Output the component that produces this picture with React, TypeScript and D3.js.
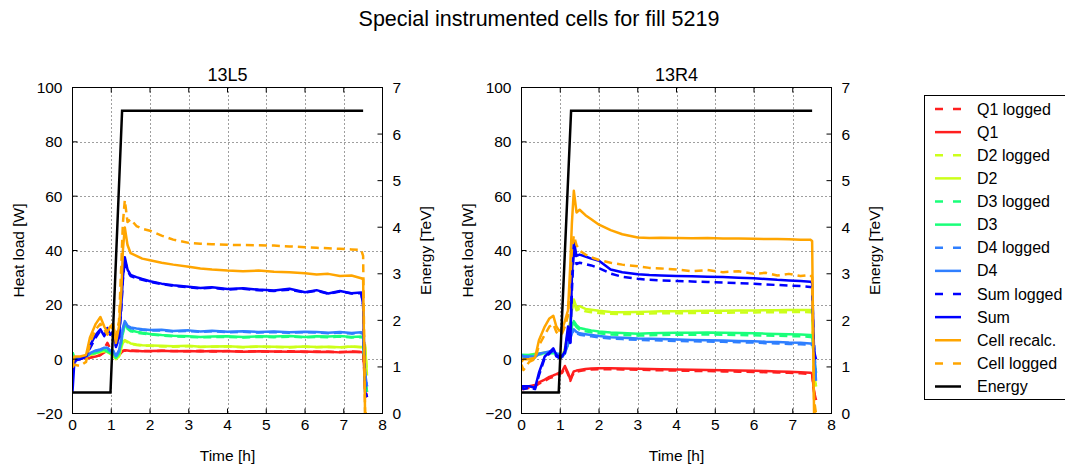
import React from 'react';
import * as d3 from 'd3';

// ---------- data ----------
const TIME = [0, 0.05, 0.2, 0.35, 0.45, 0.6, 0.72, 0.82, 0.9, 0.97, 1.05, 1.12, 1.2, 1.26, 1.3, 1.35, 1.42, 1.5, 1.65, 1.8, 2.0, 2.3, 2.6, 3.0, 3.3, 3.6, 4.0, 4.4, 4.8, 5.2, 5.6, 6.0, 6.3, 6.6, 6.9, 7.2, 7.45, 7.5, 7.55, 7.6];

// 13L5
const L5_Q1_LOG = [0, 0, 0, 0.3, 0.5, 1, 1.5, 4, 6, 4, 1.5, 0.5, 1.5, 2.5, 3, 3.2, 3.1, 3.2, 3, 3.1, 2.9, 3.1, 3, 2.9, 3.1, 2.8, 3, 2.8, 2.9, 2.7, 2.9, 2.6, 2.8, 2.7, 2.6, 2.8, 2.6, 2.5, -10, -14];
const L5_Q1 = [0, 0, 0.2, 0.5, 0.6, 1, 1.5, 2.5, 3, 3, 1.5, 0.5, 1.5, 2.5, 3, 3.3, 3.2, 3, 3.1, 2.9, 3, 3.1, 2.9, 3, 2.8, 3, 2.9, 2.7, 2.9, 2.8, 2.7, 2.8, 2.6, 2.7, 2.5, 2.7, 2.6, 2.4, -8, -12];
const L5_D2_LOG = [1, 0.5, 0.5, 1, 1.5, 2, 2.5, 3, 2.5, 2, 1.5, 0, 1, 4, 6, 6.8, 6.2, 5.6, 5.2, 5, 4.9, 4.7, 4.6, 4.8, 4.5, 4.6, 4.7, 4.4, 4.6, 4.5, 4.3, 4.6, 4.4, 4.5, 4.3, 4.6, 4.4, 4.5, 5, -5];
const L5_D2 = [1, 0.5, 0.8, 1.2, 1.5, 2.2, 2.8, 3, 2.6, 2, 1.5, 0, 1, 4, 6.2, 7, 6.5, 5.8, 5.4, 5.1, 5, 4.9, 4.8, 4.9, 4.6, 4.7, 4.8, 4.5, 4.7, 4.6, 4.5, 4.7, 4.5, 4.6, 4.4, 4.7, 4.5, 4.6, 5.2, -6];
const L5_D3_LOG = [2.5, 0, 0.5, 1, 1.8, 2.3, 2.8, 3.2, 2.8, 2.3, 2.3, 0.5, 2, 5.5, 9.5, 12.5, 11.2, 10.3, 9.8, 9.4, 9.1, 8.7, 8.4, 8.2, 8, 8.1, 8.2, 8, 8.2, 8.1, 8.3, 8, 8.2, 8.1, 8.3, 8, 8.1, 8, -8, -12];
const L5_D3 = [2.5, 0.2, 0.6, 1.2, 2, 2.5, 3, 3.5, 3, 2.5, 2.5, 0.5, 2, 6, 10, 13, 11.5, 10.6, 10.1, 9.7, 9.3, 8.9, 8.6, 8.4, 8.2, 8.3, 8.4, 8.2, 8.4, 8.3, 8.5, 8.2, 8.4, 8.3, 8.5, 8.2, 8.3, 8.2, -8, -12];
const L5_D4_LOG = [-1, 0, 0.5, 1, 2, 3, 3.5, 4, 4, 3, 3, 1, 3, 7, 11, 13.5, 12, 11.4, 11, 10.8, 10.5, 10.6, 10.2, 10.4, 10, 10.3, 9.9, 10.1, 9.8, 10, 9.7, 9.9, 9.8, 9.5, 9.8, 9.4, 9.7, 9.2, -5, -10];
const L5_D4 = [-2, 0, 0.5, 1, 2.2, 3.2, 3.6, 4.2, 4.2, 3.2, 3.2, 1.2, 3.2, 7.5, 11.5, 14, 12.3, 11.7, 11.3, 11, 10.7, 10.8, 10.4, 10.6, 10.2, 10.5, 10.1, 10.3, 10, 10.2, 9.9, 10.1, 10, 9.7, 10, 9.6, 9.9, 9.4, -5, -10];
const L5_SUM_LOG = [-3, -1, 0, 1, 4, 8, 10.5, 9, 10, 8.5, 9.5, 4.5, 7.5, 19, 29, 36.5, 32.5, 30.6, 29.8, 29.2, 28.5, 27.6, 27, 26.5, 26, 26.3, 25.6, 25.9, 25.4, 25.1, 25.6, 24.5, 25.2, 24.1, 24.9, 24.2, 24.3, 20, -12, -14];
const L5_SUM = [-12, -0.5, 0, 1, 5, 9, 11, 8.5, 11.5, 9, 10, 5, 8, 20, 30, 37.5, 33, 31, 30.2, 29.5, 28.7, 27.8, 27.2, 26.7, 26.2, 26.5, 25.8, 26.1, 25.6, 25.3, 25.9, 24.6, 25.4, 24.2, 25.1, 24.3, 24.5, 20, -12, -14];
const L5_CELL = [-2, 1, 1, 1.5, 8, 13, 15.5, 12, 10, 12, 13, 6, 12, 25, 40, 48.5, 42, 39, 38, 37, 36.4, 35.5, 34.8, 34, 33.4, 33, 32.6, 32.4, 32.6, 32.2, 32, 31.6, 31.2, 31.4, 30.6, 30.8, 29.8, 29.4, -20, -20];
const L5_CELL_LOG = [-3, -2, -2.5, -1, 6, 11, 13, 11, 9, 11, 12, 8, 14, 35, 50, 58.5, 50.5, 51.5, 49, 48, 47.3, 45.5, 44, 42.8, 42.5, 42.3, 42.1, 42, 41.9, 41.8, 41.5, 41.2, 41, 40.8, 40.6, 40.4, 40.2, 38, -20, -20];
const L5_ENERGY_TIME = [0, 0.98, 1.28, 7.5];
const L5_ENERGY = [0.45, 0.45, 6.5, 6.5];

// 13R4
const R4_Q1_LOG = [-11, -11, -10.5, -10, -9, -8, -7, -6.5, -6, -5.5, -5, -3, -5.5, -8, -6.5, -5, -4.6, -4.4, -4, -3.8, -3.7, -3.7, -3.8, -3.9, -4, -4.1, -4.2, -4.3, -4.4, -4.5, -4.6, -4.7, -4.8, -4.9, -5, -5.2, -5.4, -5.6, -12, -15];
const R4_Q1 = [-10, -10, -10, -9.5, -8.5, -7.5, -6.5, -6, -5.5, -5, -4.5, -2.5, -5, -7.5, -6, -4.5, -4.2, -4, -3.6, -3.4, -3.3, -3.3, -3.4, -3.5, -3.6, -3.7, -3.8, -3.9, -4, -4.1, -4.2, -4.3, -4.4, -4.5, -4.6, -4.8, -5, -5.2, -12, -15];
const R4_D2_LOG = [1, 1, 1.2, 1.8, 1.8, 2.2, 2.2, 2.8, 1.3, 0.8, 0.8, 3.5, 9, 13, 18, 21, 18, 18.5, 17.6, 17.3, 17, 16.7, 16.6, 16.7, 16.8, 16.9, 16.9, 17, 17.1, 17.1, 17.2, 17.2, 17.3, 17.3, 17.3, 17.4, 17.3, 17.2, -5, -10];
const R4_D2 = [1, 1, 1.5, 2, 2, 2.5, 2.5, 3, 1.5, 1, 1, 4, 10, 14, 19, 22, 19, 19.5, 18.5, 18.2, 17.8, 17.4, 17.3, 17.4, 17.5, 17.6, 17.6, 17.7, 17.8, 17.8, 17.9, 17.9, 18, 18, 18.1, 18.1, 18.1, 18, -5, -10];
const R4_D3_LOG = [1.5, 1.5, 1.4, 1.6, 1.8, 2, 2.2, 2.3, 1.8, 1.3, 1, 2.2, 5.5, 8.5, 11.5, 13.2, 11.8, 10.8, 10.3, 9.9, 9.5, 9.1, 8.9, 8.7, 8.8, 8.9, 9, 9, 9.1, 9, 8.9, 8.8, 8.7, 8.6, 8.5, 8.4, 8.2, 8.1, 0, -5];
const R4_D3 = [1.5, 1.5, 1.5, 1.8, 2, 2.2, 2.4, 2.5, 2, 1.5, 1.2, 2.5, 6, 9, 12, 14, 12.5, 11.5, 11, 10.6, 10.2, 9.8, 9.6, 9.4, 9.5, 9.6, 9.7, 9.7, 9.8, 9.7, 9.6, 9.5, 9.4, 9.3, 9.2, 9.1, 8.9, 8.8, 0, -5];
const R4_D4_LOG = [1.5, 1, 0.8, 0.8, 1.8, 2.3, 2.6, 2.8, 1.8, 1.8, 0.8, 2.2, 5.5, 7.5, 9.5, 10.5, 9.5, 9, 8.7, 8.4, 8, 7.6, 7.4, 7.1, 7, 6.9, 6.7, 6.6, 6.5, 6.4, 6.2, 6.1, 5.9, 5.8, 5.6, 5.5, 5.3, 5.3, 5, -8];
const R4_D4 = [1.5, 1, 1, 1, 2, 2.5, 2.8, 3, 2, 2, 1, 2.5, 6, 8, 10, 11, 10, 9.5, 9.2, 8.9, 8.5, 8.1, 7.9, 7.6, 7.5, 7.4, 7.2, 7.1, 7, 6.9, 6.7, 6.6, 6.4, 6.3, 6.1, 6, 5.8, 5.8, 5, -8];
const R4_SUM_LOG = [-10, -11, -10.5, -11, -6, 0.5, 2, 3.5, 1, 0.5, 0.5, 2, 10, 5, 25, 40, 35, 35.5, 35, 34.5, 33.5, 31.5, 30.3, 29.6, 29.2, 29, 28.8, 28.6, 28.4, 28.2, 28, 27.8, 27.5, 27.3, 27.1, 26.9, 26.6, 26.5, 2, 0];
const R4_SUM = [-10, -10, -10, -10.5, -5, 1, 2.5, 4, 1.5, 1, 1, 3, 12, 6, 30, 43.5, 38, 38.5, 37.8, 37, 36.2, 33, 32, 31.3, 31, 30.8, 30.6, 30.5, 30.3, 30.2, 30, 29.8, 29.5, 29.2, 29, 28.8, 28.5, 28.3, 3, 0];
const R4_CELL = [-1, 0, 0, 0.5, 7, 12, 15, 16, 12, 10.5, 11, 14, 18, 35, 50, 62, 54, 55, 53, 51.5, 49.5, 47.5, 46, 44.8, 44.6, 44.7, 44.6, 44.5, 44.6, 44.4, 44.4, 44.3, 44.2, 44.2, 44.1, 44, 44, 43.5, -20, -20];
const R4_CELL_LOG = [-2, -4, -1, 0, 5, 9, 12, 13, 10, 9, 9.5, 12, 16, 30, 40, 45.5, 42, 40, 38.5, 37.5, 36.5, 35.5, 34.8, 34.2, 33.6, 33.4, 33, 32.4, 32.8, 32, 32.4, 31.4, 31.8, 30.8, 31.4, 30.6, 31, 30.2, -15, -20];
const R4_ENERGY_TIME = [0, 0.96, 1.28, 7.5];
const R4_ENERGY = [0.45, 0.45, 6.5, 6.5];

const SERIES_NAMES = ['Q1 logged', 'Q1', 'D2 logged', 'D2', 'D3 logged', 'D3', 'D4 logged', 'D4', 'Sum logged', 'Sum', 'Cell recalc.', 'Cell logged'];
const L5_VALUES = [L5_Q1_LOG, L5_Q1, L5_D2_LOG, L5_D2, L5_D3_LOG, L5_D3, L5_D4_LOG, L5_D4, L5_SUM_LOG, L5_SUM, L5_CELL, L5_CELL_LOG];
const R4_VALUES = [R4_Q1_LOG, R4_Q1, R4_D2_LOG, R4_D2, R4_D3_LOG, R4_D3, R4_D4_LOG, R4_D4, R4_SUM_LOG, R4_SUM, R4_CELL, R4_CELL_LOG];

const TIME_TICKS = [0, 1, 2, 3, 4, 5, 6, 7, 8];
const HEAT_TICKS = [-20, 0, 20, 40, 60, 80, 100];
const ENERGY_TICKS = [0, 1, 2, 3, 4, 5, 6, 7];

// ---------- styles ----------
const RED = '#ff1f1f';
const LIME = '#ccff1a';
const MINT = '#1aff7a';
const AZURE = '#2f7fff';
const BLUE = '#0000ff';
const ORANGE = '#ffa500';
const SERIES_COLORS = [RED, RED, LIME, LIME, MINT, MINT, AZURE, AZURE, BLUE, BLUE, ORANGE, ORANGE];
const SERIES_DASHED = [true, false, true, false, true, false, true, false, true, false, false, true];
const FONT = '"Liberation Sans", Arial, Helvetica, sans-serif';

const TOP = 87.5;
const BOTTOM = 413.5;
const PW = 310;

function Panel({ x0, title, values, eTime, eVals, id }: any) {
  const x = d3.scaleLinear().domain([0, 8]).range([x0, x0 + PW]);
  const y = d3.scaleLinear().domain([-20, 100]).range([BOTTOM, TOP]);
  const yE = d3.scaleLinear().domain([0, 7]).range([BOTTOM, TOP]);
  const line = d3.line<number>().x((_, i) => x(TIME[i])).y((v) => y(v));
  const eLine = d3.line<number>().x((_, i) => x(eTime[i])).y((v) => yE(v));
  const x1 = x0 + PW;
  const cx = x0 + PW / 2;
  return (
    <g>
      <defs>
        <clipPath id={id}>
          <rect x={x0} y={TOP} width={PW} height={BOTTOM - TOP} />
        </clipPath>
      </defs>
      {/* grid */}
      {TIME_TICKS.slice(1, -1).map((t) => (
        <line key={'gx' + t} x1={Math.round(x(t)) + 0.5} x2={Math.round(x(t)) + 0.5} y1={TOP} y2={BOTTOM} stroke="#000" strokeWidth={1} strokeDasharray="1,3" opacity={0.75} />
      ))}
      {HEAT_TICKS.slice(1, -1).map((v) => (
        <line key={'gy' + v} x1={x0} x2={x1} y1={Math.round(y(v)) + 0.5} y2={Math.round(y(v)) + 0.5} stroke="#000" strokeWidth={1} strokeDasharray="1,3" opacity={0.75} />
      ))}
      {/* series */}
      <g clipPath={`url(#${id})`}>
        {values.map((vals: number[], i: number) => (
          <path key={i} d={line(vals) || ''} fill="none" stroke={SERIES_COLORS[i]} strokeWidth={2.5}
            strokeDasharray={SERIES_DASHED[i] ? '8,5' : undefined} strokeLinejoin="round" />
        ))}
        <path d={eLine(eVals) || ''} fill="none" stroke="#000" strokeWidth={2.5} strokeLinejoin="miter" />
      </g>
      {/* frame */}
      <rect x={x0} y={TOP} width={PW} height={BOTTOM - TOP} fill="none" stroke="#000" strokeWidth={1} />
      {/* ticks */}
      {TIME_TICKS.map((t) => (
        <g key={'tx' + t}>
          <line x1={x(t)} x2={x(t)} y1={BOTTOM} y2={BOTTOM - 5} stroke="#000" />
          <line x1={x(t)} x2={x(t)} y1={TOP} y2={TOP + 5} stroke="#000" />
          <text x={x(t)} y={BOTTOM + 16} textAnchor="middle" fontSize={15.5} fontFamily={FONT}>{t}</text>
        </g>
      ))}
      {HEAT_TICKS.map((v) => (
        <g key={'ty' + v}>
          <line x1={x0} x2={x0 + 5} y1={y(v)} y2={y(v)} stroke="#000" />
          <text x={x0 - 10} y={y(v) + 5.5} textAnchor="end" fontSize={15.5} fontFamily={FONT}>{v < 0 ? '\u2212' + Math.abs(v) : v}</text>
        </g>
      ))}
      {ENERGY_TICKS.map((v) => (
        <g key={'te' + v}>
          <line x1={x1} x2={x1 - 5} y1={yE(v)} y2={yE(v)} stroke="#000" />
          <text x={x1 + 10} y={yE(v) + 5.5} textAnchor="start" fontSize={15.5} fontFamily={FONT}>{v}</text>
        </g>
      ))}
      <text x={cx} y={81} textAnchor="middle" fontSize={18} fontFamily={FONT}>{title}</text>
      <text x={cx} y={461} textAnchor="middle" fontSize={15.5} fontFamily={FONT}>Time [h]</text>
      <text transform={`translate(${x0 - 49},${(TOP + BOTTOM) / 2}) rotate(-90)`} textAnchor="middle" fontSize={15.5} fontFamily={FONT}>Heat load [W]</text>
      <text transform={`translate(${x1 + 48},${(TOP + BOTTOM) / 2}) rotate(-90)`} textAnchor="middle" fontSize={15.5} fontFamily={FONT}>Energy [TeV]</text>
    </g>
  );
}

function Legend() {
  const lx = 924.5;
  const ly = 95.5;
  const rowY = d3.scaleLinear().domain([0, 12]).range([109, 386.5]);
  const names = [...SERIES_NAMES, 'Energy'];
  const colors = [...SERIES_COLORS, '#000'];
  const dashed = [...SERIES_DASHED, false];
  return (
    <g>
      <rect x={lx} y={ly} width={170} height={304} fill="#fff" stroke="#000" strokeWidth={1} />
      {names.map((n, i) => (
        <g key={n}>
          <line x1={935} x2={961} y1={rowY(i)} y2={rowY(i)} stroke={colors[i]} strokeWidth={2.5}
            strokeDasharray={dashed[i] ? '8,10' : undefined} />
          <text x={977} y={rowY(i) + 5.5} fontSize={16} fontFamily={FONT}>{n}</text>
        </g>
      ))}
    </g>
  );
}

export default function App() {
  return (
    <svg width={1065} height={464} style={{ position: 'absolute', left: 0, top: 0, background: '#fff' }}>
      <rect width={1065} height={464} fill="#fff" />
      <text x={539} y={26} textAnchor="middle" fontSize={21.5} fontFamily={FONT}>Special instrumented cells for fill 5219</text>
      <Panel id="clipL5" x0={72.5} title="13L5" values={L5_VALUES} eTime={L5_ENERGY_TIME} eVals={L5_ENERGY} />
      <Panel id="clipR4" x0={521.5} title="13R4" values={R4_VALUES} eTime={R4_ENERGY_TIME} eVals={R4_ENERGY} />
      <Legend />
    </svg>
  );
}
